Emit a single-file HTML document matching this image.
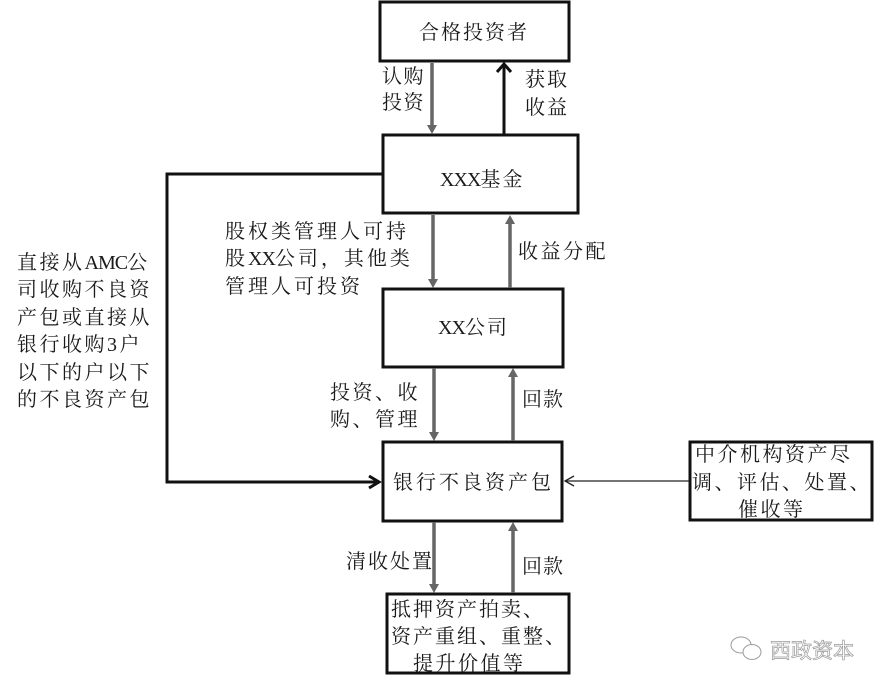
<!DOCTYPE html>
<html><head><meta charset="utf-8">
<style>
html,body{margin:0;padding:0;background:#fff;}
body{width:887px;height:689px;position:relative;overflow:hidden;}
.t{position:absolute;font-family:"Liberation Serif","Noto Serif CJK SC",serif;font-size:20px;line-height:20px;letter-spacing:2.5px;white-space:nowrap;color:#1a1a1a;}
.x{letter-spacing:-1px;}
svg{position:absolute;left:0;top:0;}
.wm{position:absolute;left:770px;top:639px;font-family:"Noto Sans CJK SC",sans-serif;font-size:21px;line-height:22px;color:#fff;-webkit-text-stroke:0.7px #9a9a9a;letter-spacing:0px;white-space:nowrap;}
</style></head><body>
<svg width="887" height="689" viewBox="0 0 887 689">
  <g fill="none" stroke="#111" stroke-width="3">
    <rect x="380" y="2" width="189" height="59"/>
    <rect x="383" y="135" width="195" height="78"/>
    <rect x="383" y="289" width="180" height="78"/>
    <rect x="383" y="442" width="179" height="79"/>
    <rect x="690" y="442" width="182" height="78"/>
    <rect x="387" y="594" width="182" height="79"/>
  </g>
  <!-- gray arrows -->
  <g stroke="#666" stroke-width="3.5" fill="#666">
    <line x1="432" y1="63" x2="432" y2="126"/>
    <polygon points="427,125 437,125 432,134" stroke="none"/>
    <line x1="433" y1="215" x2="433" y2="280"/>
    <polygon points="428,279 438,279 433,288" stroke="none"/>
    <line x1="510" y1="288" x2="510" y2="223"/>
    <polygon points="505,224 515,224 510,215" stroke="none"/>
    <line x1="434" y1="368" x2="434" y2="433"/>
    <polygon points="429,432 439,432 434,441" stroke="none"/>
    <line x1="513" y1="441" x2="513" y2="376"/>
    <polygon points="508,377 518,377 513,368" stroke="none"/>
    <line x1="434" y1="522" x2="434" y2="585"/>
    <polygon points="429,584 439,584 434,593" stroke="none"/>
    <line x1="513" y1="593" x2="513" y2="530"/>
    <polygon points="508,531 518,531 513,522" stroke="none"/>
  </g>
  <!-- black up arrow -->
  <g stroke="#111" stroke-width="3" fill="none">
    <line x1="504" y1="134" x2="504" y2="64"/>
    <polyline points="497,72 504,64 511,72"/>
  </g>
  <!-- left connector -->
  <g stroke="#111" stroke-width="3" fill="none" stroke-linejoin="miter">
    <polyline points="382,174 167,174 167,482 379,482"/>
    <polyline points="369,476 379,482 369,488"/>
  </g>
  <!-- intermediary arrow -->
  <g stroke="#222" stroke-width="1.3" fill="none">
    <line x1="689" y1="481" x2="565" y2="481"/>
    <polyline points="574,476 565,481 574,486"/>
  </g>
  <!-- wechat icon -->
  <g fill="#fff" stroke="#9a9a9a" stroke-width="1">
    <ellipse cx="741" cy="645" rx="10" ry="8"/>
    <ellipse cx="752" cy="652" rx="9" ry="7.5"/>
  </g>
</svg>

<div class="t" style="left:419px;top:23px;letter-spacing:2px;">合格投资者</div>
<div class="t" style="left:382px;top:67px;letter-spacing:1.5px;">认购</div>
<div class="t" style="left:382px;top:93px;letter-spacing:1.5px;">投资</div>
<div class="t" style="left:525px;top:70px;letter-spacing:2px;">获取</div>
<div class="t" style="left:525px;top:98px;letter-spacing:2px;">收益</div>
<div class="t" style="left:440px;top:170px;letter-spacing:2px;"><span class="x">XXX</span>基金</div>

<div class="t" style="left:225px;top:222px;letter-spacing:3px;">股权类管理人可持</div>
<div class="t" style="left:225px;top:249px;letter-spacing:3px;">股<span class="x">XX</span>公司，其他类</div>
<div class="t" style="left:225px;top:277px;letter-spacing:3px;">管理人可投资</div>
<div class="t" style="left:518px;top:242px;letter-spacing:2.5px;">收益分配</div>
<div class="t" style="left:438px;top:318px;letter-spacing:2px;"><span class="x">XX</span>公司</div>

<div class="t" style="left:17px;top:253px;">直接从<span class="x">AMC</span>公</div>
<div class="t" style="left:17px;top:280px;">司收购不良资</div>
<div class="t" style="left:17px;top:308px;">产包或直接从</div>
<div class="t" style="left:17px;top:335px;">银行收购3户</div>
<div class="t" style="left:17px;top:363px;">以下的户以下</div>
<div class="t" style="left:17px;top:390px;">的不良资产包</div>

<div class="t" style="left:330px;top:383px;letter-spacing:2.5px;">投资、收</div>
<div class="t" style="left:330px;top:410px;letter-spacing:2.5px;">购、管理</div>
<div class="t" style="left:522px;top:390px;letter-spacing:1px;">回款</div>

<div class="t" style="left:393px;top:473px;letter-spacing:3px;">银行不良资产包</div>

<div class="t" style="left:695px;top:445px;letter-spacing:2.5px;">中介机构资产尽</div>
<div class="t" style="left:692px;top:473px;letter-spacing:2.5px;">调、评估、处置、</div>
<div class="t" style="left:738px;top:500px;letter-spacing:2.5px;">催收等</div>

<div class="t" style="left:346px;top:552px;letter-spacing:2px;">清收处置</div>
<div class="t" style="left:522px;top:557px;letter-spacing:1px;">回款</div>

<div class="t" style="left:391px;top:600px;letter-spacing:2px;">抵押资产拍卖、</div>
<div class="t" style="left:391px;top:627px;letter-spacing:2px;">资产重组、重整、</div>
<div class="t" style="left:413px;top:654px;letter-spacing:2.5px;">提升价值等</div>

<div class="wm">西政资本</div>
</body></html>
